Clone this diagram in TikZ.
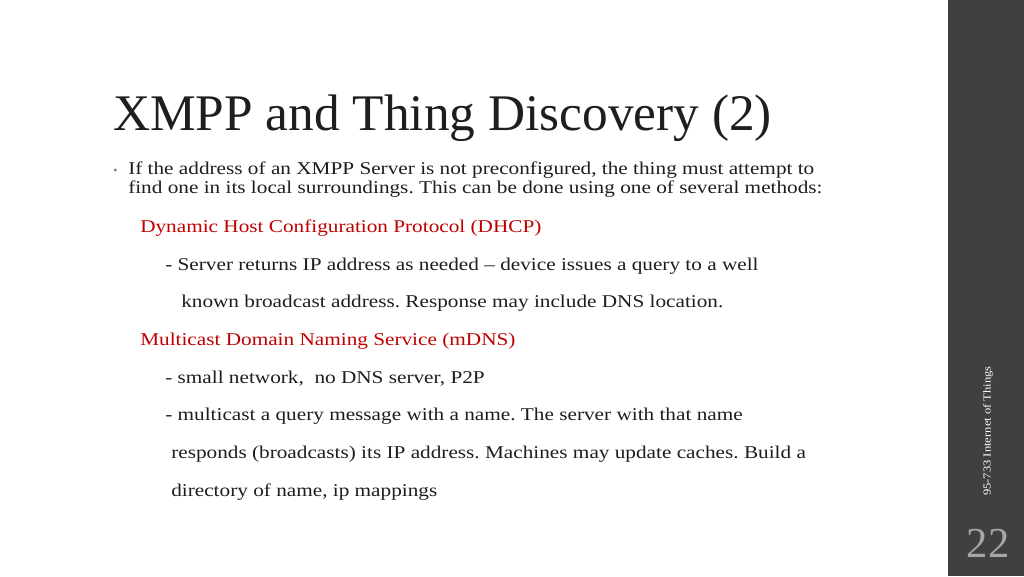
\documentclass[tikz,border=0pt]{standalone}
\usepackage{fontspec}
\setmainfont{Liberation Serif}
\newfontfamily\bodyfont[FakeStretch=1.18]{Liberation Serif}
\definecolor{side}{RGB}{64,64,64}
\definecolor{red1}{RGB}{192,0,0}
\definecolor{txt}{RGB}{30,30,30}
\frenchspacing
\begin{document}
\begin{tikzpicture}[x=0.75pt,y=-0.75pt,
  body/.style={anchor=base west,inner sep=0pt,font=\bodyfont\fontsize{13.5}{16}\selectfont,text=txt},
  head/.style={body,text=red1}]
\useasboundingbox (0,0) rectangle (1024,576);
\fill[white] (0,0) rectangle (1024,576);
\fill[side] (948,0) rectangle (1024,576);
\node[anchor=base west,inner sep=0pt,font=\fontsize{38.5}{40}\selectfont,text=txt] (title) at (113,130) {XMPP and Thing Discovery (2)};
\node[anchor=base west,inner sep=0pt,font=\fontsize{9}{10}\selectfont,text=gray] (bul) at (113,174) {•};
\node[body] (l1) at (128,174) {If the address of an XMPP Server is not preconfigured, the thing must attempt to};
\node[body] (l2) at (128,193) {find one in its local surroundings. This can be done using one of several methods:};
\node[head] (l3) at (140,232) {Dynamic Host Configuration Protocol (DHCP)};
\node[body] (l4) at (165,270) {- Server returns IP address as needed – device issues a query to a well};
\node[body] (l5) at (181,307) {known broadcast address. Response may include DNS location.};
\node[head] (l6) at (140,345) {Multicast Domain Naming Service (mDNS)};
\node[body] (l7) at (165,383) {- small network,\ \ no DNS server, P2P};
\node[body] (l8) at (165,420) {- multicast a query message with a name. The server with that name};
\node[body] (l9) at (171,458) {responds (broadcasts) its IP address. Machines may update caches. Build a};
\node[body] (l10) at (171,496) {directory of name, ip mappings};
\node[rotate=90,inner sep=0pt,font=\bodyfont\fontsize{8}{9}\selectfont,text=white] (foot) at (988,431) {95-733 Internet of Things};
\node[inner sep=0pt,font=\fontsize{32}{34}\selectfont,text=gray!70] (num) at (988,543) {22};
\end{tikzpicture}
\end{document}
